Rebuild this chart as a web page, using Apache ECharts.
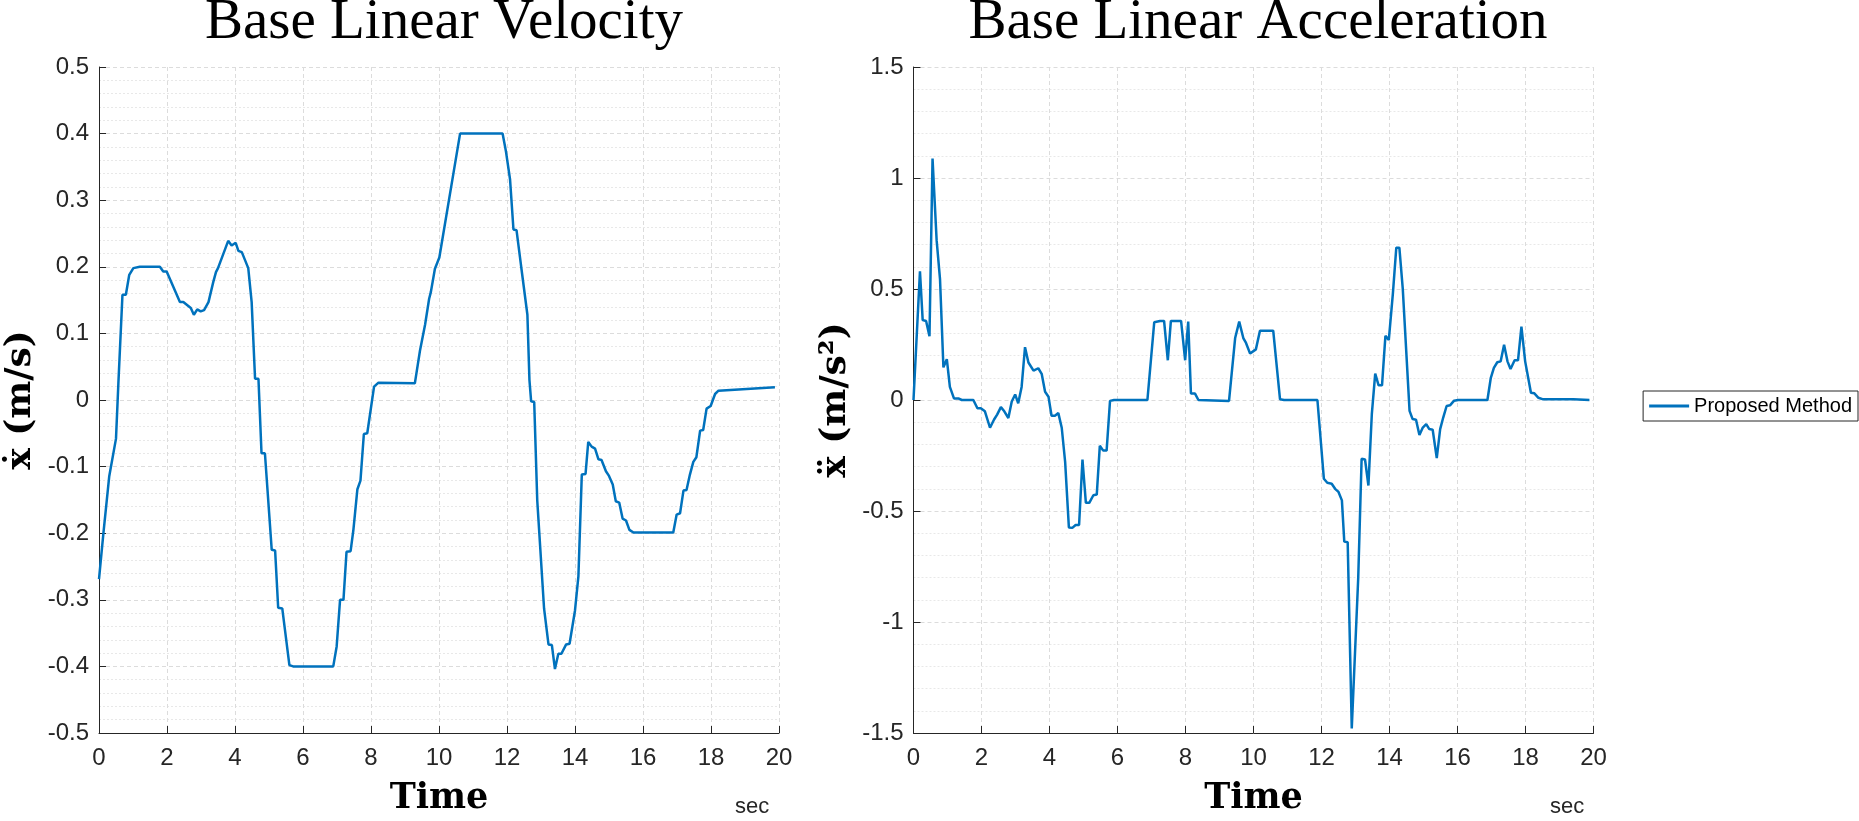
<!DOCTYPE html>
<html lang="en">
<head>
<meta charset="UTF-8">
<title>Base Linear Velocity / Acceleration</title>
<script src="https://cdn.jsdelivr.net/npm/echarts@6/dist/echarts.min.js"></script>
<style>
  html, body { margin: 0; padding: 0; background: #fff; }
  #main { width: 1859px; height: 821px; }
</style>
</head>
<body>
<div id="main"></div>
<script>
// velocity (m/s)
var velTime = [0, 0.13, 0.30, 0.5, 0.57, 0.69, 0.79, 0.89, 1.01, 1.2, 1.79, 1.89, 1.99, 2.38, 2.48, 2.70, 2.79, 2.89, 2.99, 3.09,
  3.22, 3.36, 3.44, 3.5, 3.80, 3.90, 4.02, 4.10, 4.2, 4.39, 4.49, 4.59, 4.69, 4.78, 4.88, 5.08, 5.18, 5.27, 5.39, 5.60,
  5.71, 6.89, 6.99, 7.09, 7.19, 7.28, 7.4, 7.48, 7.6, 7.69, 7.79, 7.89, 8.09, 8.22, 9.29, 9.44, 9.59, 9.71, 9.76, 9.88,
  10.01, 10.62, 10.72, 11.87, 11.97, 12.09, 12.19, 12.28, 12.42, 12.6, 12.66, 12.71, 12.8, 12.89, 13.09, 13.22, 13.32, 13.41, 13.51, 13.6,
  13.74, 13.84, 14.0, 14.1, 14.2, 14.31, 14.39, 14.49, 14.59, 14.69, 14.78, 14.91, 15.0, 15.11, 15.2, 15.3, 15.4, 15.5, 15.6, 15.72,
  16.89, 16.99, 17.09, 17.19, 17.28, 17.38, 17.48, 17.57, 17.68, 17.77, 17.87, 17.99, 18.12, 18.22, 19.88];
var velValue = [-0.269, -0.2, -0.115, -0.058, 0.025, 0.158, 0.158, 0.188, 0.198, 0.2, 0.2, 0.193, 0.193, 0.147, 0.147, 0.138, 0.128, 0.136, 0.133, 0.135,
  0.147, 0.177, 0.192, 0.198, 0.239, 0.232, 0.236, 0.224, 0.222, 0.198, 0.147, 0.032, 0.032, -0.08, -0.08, -0.225, -0.226, -0.312, -0.313, -0.398,
  -0.4, -0.4, -0.37, -0.3, -0.3, -0.228, -0.227, -0.196, -0.134, -0.121, -0.051, -0.05, 0.02, 0.026, 0.025, 0.074, 0.113, 0.152, 0.162, 0.197,
  0.214, 0.4, 0.4, 0.4, 0.373, 0.331, 0.256, 0.255, 0.199, 0.128, 0.03, -0.002, -0.003, -0.151, -0.313, -0.367, -0.368, -0.404, -0.381, -0.381,
  -0.367, -0.366, -0.316, -0.265, -0.112, -0.111, -0.063, -0.07, -0.073, -0.089, -0.09, -0.107, -0.114, -0.127, -0.152, -0.154, -0.178, -0.181, -0.195, -0.199,
  -0.199, -0.172, -0.17, -0.136, -0.135, -0.112, -0.093, -0.086, -0.046, -0.045, -0.013, -0.009, 0.009, 0.014, 0.019];

// acceleration (m/s^2)
var accTime = [0, 0.19, 0.27, 0.37, 0.47, 0.56, 0.68, 0.78, 0.88, 0.98, 1.07, 1.19, 1.32, 1.42, 1.76, 1.88, 1.98, 2.1, 2.25, 2.37,
  2.46, 2.57, 2.67, 2.79, 2.89, 2.99, 3.08, 3.18, 3.28, 3.38, 3.53, 3.67, 3.77, 3.87, 3.97, 4.06, 4.16, 4.26, 4.36, 4.46,
  4.57, 4.67, 4.77, 4.87, 4.97, 5.07, 5.17, 5.29, 5.39, 5.48, 5.58, 5.68, 5.78, 5.9, 6.88, 7.08, 7.25, 7.37, 7.48, 7.57,
  7.87, 7.99, 8.08, 8.16, 8.28, 8.38, 9.28, 9.46, 9.58, 9.7, 9.78, 9.9, 10.07, 10.19, 10.58, 10.78, 10.9, 11.88, 12.07, 12.17,
  12.3, 12.4, 12.5, 12.6, 12.67, 12.77, 12.89, 13.08, 13.18, 13.28, 13.38, 13.48, 13.58, 13.68, 13.78, 13.88, 13.98, 14.1, 14.2, 14.29,
  14.39, 14.59, 14.68, 14.78, 14.88, 14.98, 15.08, 15.17, 15.27, 15.39, 15.49, 15.58, 15.68, 15.78, 15.9, 16.02, 16.88, 16.98, 17.07, 17.17,
  17.27, 17.37, 17.47, 17.56, 17.68, 17.78, 17.88, 17.99, 18.16, 18.26, 18.38, 18.52, 19.41, 19.88];
var accValue = [0, 0.58, 0.36, 0.356, 0.287, 1.088, 0.72, 0.544, 0.147, 0.184, 0.059, 0.007, 0.007, 0, 0, -0.037, -0.037, -0.051, -0.125, -0.088,
  -0.066, -0.032, -0.051, -0.081, -0.007, 0.025, -0.015, 0.059, 0.238, 0.169, 0.132, 0.143, 0.118, 0.037, 0.015, -0.071, -0.071, -0.059, -0.125, -0.279,
  -0.574, -0.576, -0.563, -0.563, -0.268, -0.463, -0.463, -0.429, -0.426, -0.206, -0.228, -0.228, -0.004, 0, 0, 0.35, 0.356, 0.356, 0.179, 0.356,
  0.356, 0.179, 0.353, 0.029, 0.029, 0, -0.004, 0.279, 0.353, 0.279, 0.257, 0.209, 0.228, 0.312, 0.312, 0.003, 0, 0, -0.355, -0.373,
  -0.377, -0.4, -0.414, -0.452, -0.638, -0.641, -1.48, -0.802, -0.265, -0.268, -0.385, -0.064, 0.119, 0.066, 0.066, 0.289, 0.271, 0.48, 0.686, 0.686,
  0.502, -0.049, -0.086, -0.089, -0.158, -0.124, -0.109, -0.131, -0.134, -0.262, -0.131, -0.079, -0.027, -0.024, -0.003, 0, 0, 0.1, 0.145, 0.17,
  0.174, 0.249, 0.174, 0.14, 0.179, 0.179, 0.331, 0.174, 0.033, 0.03, 0.01, 0.003, 0.003, 0];

var seriesName = 'Proposed Method';
var lineColor = '#0072BD';
var sansFont = 'Liberation Sans';
var serifFont = 'Liberation Serif';
var boldSerif = 'DejaVu Serif';

function pairs(xs, ys) {
  var out = [];
  for (var i = 0; i < xs.length; i++) out.push([xs[i], ys[i]]);
  return out;
}

// matlab-ish axis look
function xAxisOpt(idx) {
  return {
    type: 'value', gridIndex: idx, min: 0, max: 20, interval: 2,
    name: 'Time', nameLocation: 'middle', nameGap: 48,
    nameTextStyle: { fontFamily: boldSerif, fontWeight: 'bold', fontSize: 35, color: '#000' },
    axisLine: { onZero: false, lineStyle: { color: '#262626', width: 1 } },
    axisTick: { inside: true, length: 7, lineStyle: { color: '#262626' } },
    axisLabel: { fontFamily: sansFont, fontSize: 24, color: '#262626', margin: 13 },
    splitLine: { show: true, lineStyle: { color: '#dcdcdc', type: [4, 3] } }
  };
}
function yAxisOpt(idx, lo, hi, step, label) {
  return {
    type: 'value', gridIndex: idx, min: lo, max: hi, interval: step,
    name: label, nameLocation: 'middle', nameGap: 60,
    nameTextStyle: { fontFamily: boldSerif, fontWeight: 'bold', fontSize: 36, color: '#000' },
    axisLine: { show: true, onZero: false, lineStyle: { color: '#262626', width: 1 } },
    axisTick: { show: true, inside: true, length: 7, lineStyle: { color: '#262626' } },
    axisLabel: { fontFamily: sansFont, fontSize: 24, color: '#262626', margin: 10 },
    splitLine: { show: true, lineStyle: { color: '#dcdcdc', type: [4, 3] } },
    minorTick: { show: false, splitNumber: 5 },
    minorSplitLine: { show: true, lineStyle: { color: '#e8e8e8', type: [2, 2] } }
  };
}

var myChart = echarts.init(document.getElementById('main'), null, { renderer: 'canvas' });

var option = {
  backgroundColor: '#fff',
  animation: false,
  title: [
    { text: 'Base Linear Velocity', left: 439, top: -10, textAlign: 'center',
      textStyle: { fontFamily: serifFont, fontWeight: 'normal', fontSize: 57, color: '#000' } },
    { text: 'Base Linear Acceleration', left: 1253, top: -10, textAlign: 'center',
      textStyle: { fontFamily: serifFont, fontWeight: 'normal', fontSize: 57, color: '#000' } }
  ],
  legend: {
    data: [{ name: seriesName, icon: 'rect' }], right: 1, top: 391,
    padding: [5, 6, 5, 6], itemWidth: 40, itemHeight: 3, itemGap: 0,
    borderColor: '#262626', borderWidth: 1, backgroundColor: '#fff',
    textStyle: { fontFamily: sansFont, fontSize: 20, color: '#000' }
  },
  grid: [
    { left: 99, top: 67, width: 680, height: 680 },
    { left: 913.5, top: 67, width: 680, height: 680 }
  ],
  xAxis: [xAxisOpt(0), xAxisOpt(1)],
  yAxis: [
    yAxisOpt(0, -0.5, 0.5, 0.1, 'ẋ (m/s)'),
    yAxisOpt(1, -1.5, 1.5, 0.5, 'ẍ (m/s²)')
  ],
  graphic: [
    { type: 'text', left: 735, top: 796, style: { text: 'sec', font: '22px "Liberation Sans"', fill: '#262626' } },
    { type: 'text', left: 1550, top: 796, style: { text: 'sec', font: '22px "Liberation Sans"', fill: '#262626' } }
  ],
  series: [
    { name: seriesName, type: 'line', xAxisIndex: 0, yAxisIndex: 0, data: pairs(velTime, velValue),
      symbol: 'none', lineStyle: { color: lineColor, width: 2.5 }, itemStyle: { color: lineColor } },
    { name: seriesName, type: 'line', xAxisIndex: 1, yAxisIndex: 1, data: pairs(accTime, accValue),
      symbol: 'none', lineStyle: { color: lineColor, width: 2.5 }, itemStyle: { color: lineColor } }
  ]
};
myChart.setOption(option);
</script>
</body>
</html>
